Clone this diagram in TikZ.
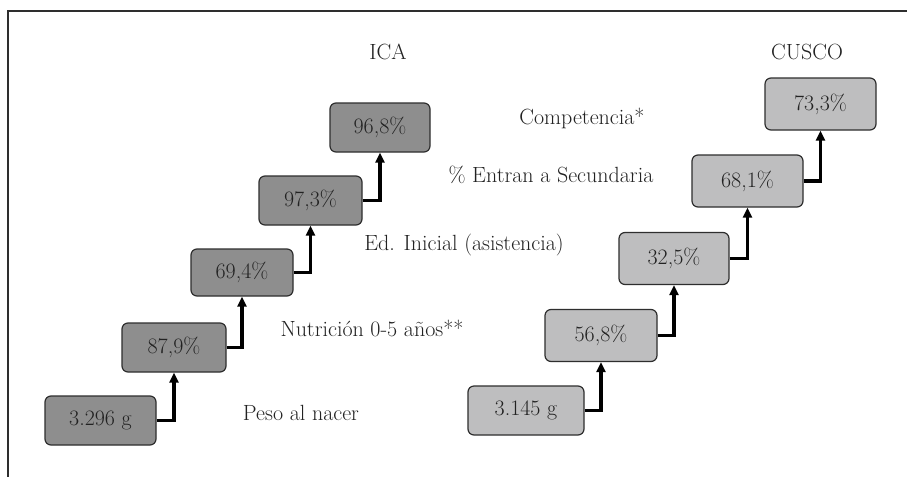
\documentclass[tikz,border=0pt]{standalone}
\usetikzlibrary{arrows.meta}
\definecolor{icafill}{HTML}{8E8E8E}
\definecolor{cuscofill}{HTML}{BEBEBF}
\definecolor{edge}{HTML}{2E2E2E}
\definecolor{txt}{HTML}{222222}
\begin{document}
\begin{tikzpicture}[x=1pt,y=-1pt,
  valbox/.style={draw=edge,line width=1.2pt,rounded corners=6pt,inner sep=0pt,
     text=txt,font=\fontsize{22}{24}\selectfont,minimum height=49pt},
  icab/.style={valbox,fill=icafill},
  cuscob/.style={valbox,fill=cuscofill,minimum height=52pt},
  lbl/.style={text=txt,font=\fontsize{22}{24}\selectfont,inner sep=0pt},
  link/.style={line width=3.2pt,line join=miter,-{Triangle[width=9pt,length=10pt]}}]
\useasboundingbox (0,0) rectangle (907,477);
\fill[white] (0,0) rectangle (907,477);
\draw[edge,line width=1.2pt] (907,11) -- (8,11) -- (8,477);
% titles
\node[lbl] (tica) at (388,52) {ICA};
\node[lbl] (tcus) at (807,52) {CUSCO};
% ICA boxes
\node[icab,minimum width=111pt] (i1) at (100.5,420.5) {3.296 g};
\node[icab,minimum width=104pt] (i2) at (174,347.5) {87,9\%};
\node[icab,minimum width=102pt,minimum height=47pt] (i3) at (242,272.5) {69,4\%};
\node[icab,minimum width=103pt] (i4) at (310.5,200.5) {97,3\%};
\node[icab,minimum width=100pt] (i5) at (380,127.5) {96,8\%};
% CUSCO boxes
\node[cuscob,minimum width=116pt,minimum height=49pt] (c1) at (526,410.5) {3.145 g};
\node[cuscob,minimum width=112pt] (c2) at (601,335.5) {56,8\%};
\node[cuscob,minimum width=110pt] (c3) at (674,258.5) {32,5\%};
\node[cuscob,minimum width=111pt] (c4) at (747.5,181) {68,1\%};
\node[cuscob,minimum width=111pt] (c5) at (820.5,104) {73,3\%};
% labels
\node[lbl] (lcomp) at (582,118) {Competencia*};
\node[lbl] (lsec) at (551,175) {\% Entran a Secundaria};
\node[lbl] (ledu) at (464,245) {Ed. Inicial (asistencia)};
\node[lbl] (lnut) at (372,328) {Nutrición 0-5 años**};
\node[lbl] (lpeso) at (301,413) {Peso al nacer};
% connectors
\draw[link] (i1.east) -| (i2.south);
\draw[link] (i2.east) -| (i3.south);
\draw[link] (i3.east) -| (i4.south);
\draw[link] (i4.east) -| (i5.south);
\draw[link] (c1.east) -| (c2.south);
\draw[link] (c2.east) -| (c3.south);
\draw[link] (c3.east) -| (c4.south);
\draw[link] (c4.east) -| (c5.south);
\end{tikzpicture}
\end{document}
